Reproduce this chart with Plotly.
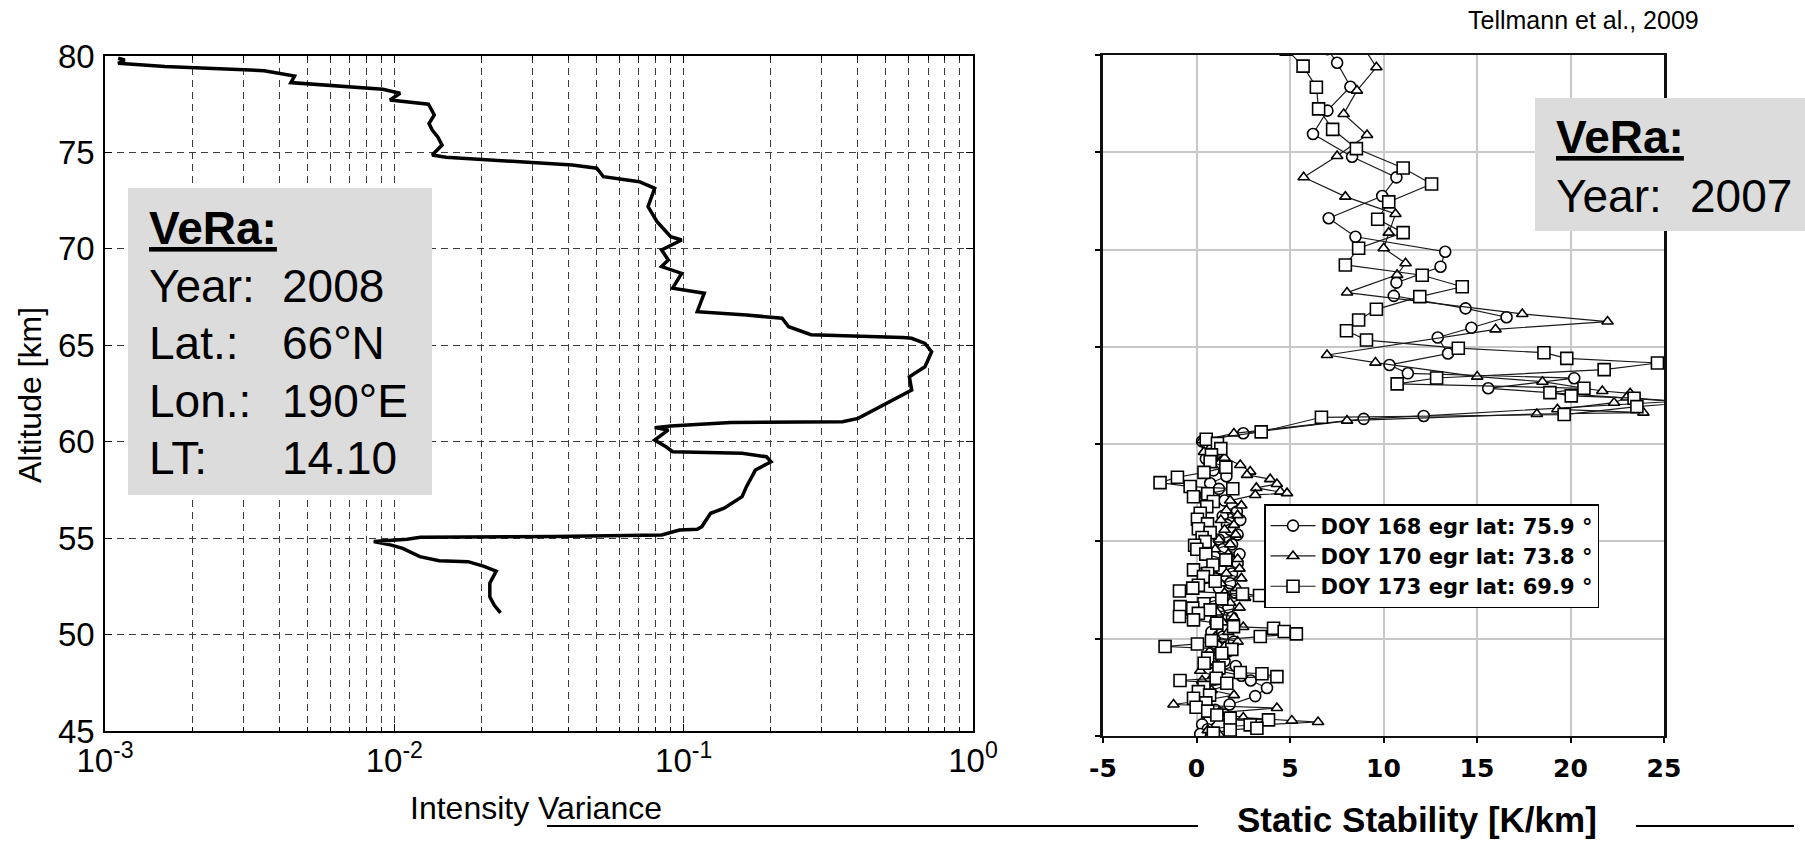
import plotly.graph_objects as go

W, H = 1805, 842

# ---------------- left panel: VeRa 2008 intensity variance profile ----------------
alt_variance = [
    79.88, 79.79, 79.62, 79.45, 79.24, 78.96, 78.62, 78.27, 78.07, 77.72,
    77.50, 76.94, 76.50, 76.16, 75.80, 75.38, 74.87, 74.75, 74.35, 74.18,
    73.74, 73.48, 73.14, 72.19, 71.41, 70.63, 70.46, 69.94, 69.42, 69.08,
    68.73, 67.96, 67.70, 66.74, 66.57, 66.40, 65.96, 65.55, 65.40, 65.36,
    65.10, 64.67, 63.89, 63.37, 62.68, 62.25, 61.82, 61.21, 61.04, 60.99,
    60.82, 60.73, 60.61, 60.09, 59.74, 59.48, 59.40, 59.22, 58.96, 58.53,
    57.67, 57.15, 56.55, 56.29, 55.60, 55.46, 55.42, 55.16, 55.08, 55.04,
    54.94, 54.82, 54.64, 54.47, 54.04, 53.83, 53.78, 53.54, 53.29, 52.66,
    51.96, 51.53, 51.13,
]
variance = [
    0.00111, 0.00117, 0.00111, 0.00161, 0.00355, 0.00452, 0.00439, 0.00912, 0.01047, 0.00966,
    0.01312, 0.01374, 0.01318, 0.01352, 0.01413, 0.01462, 0.01352, 0.01507, 0.0412, 0.0501,
    0.0528, 0.0703, 0.0794, 0.0753, 0.0809, 0.0902, 0.0984, 0.0839, 0.0885, 0.0839,
    0.0984, 0.0916, 0.1178, 0.1114, 0.1648, 0.2188, 0.2307, 0.2754, 0.5715, 0.6138,
    0.6823, 0.7194, 0.6823, 0.6026, 0.6138, 0.5420, 0.4786, 0.4009, 0.3540, 0.1455,
    0.0902, 0.0794, 0.0885, 0.0794, 0.0869, 0.0916, 0.1592, 0.1932, 0.2004, 0.1770,
    0.1648, 0.1592, 0.1380, 0.1239, 0.1156, 0.1114, 0.0968, 0.0839, 0.0357, 0.0123,
    0.01107, 0.00849, 0.00977, 0.01069, 0.01225, 0.01429, 0.01799, 0.02042, 0.02249, 0.02138,
    0.02138, 0.02213, 0.02328,
]

# log-axis ticks: labelled decades, unlabelled digits in between
var_decades = [0.001, 0.01, 0.1, 1.0]
var_decade_labels = ["10<sup>-3</sup>", "10<sup>-2</sup>", "10<sup>-1</sup>", "10<sup>0</sup>"]
var_digits = [2, 3, 4, 5, 6, 7, 8, 9]

# ---------------- right panel: VeRa 2007 static stability profiles ----------------
alt_doy168 = [
    80.30, 79.60, 78.37, 77.14, 75.94, 74.77, 73.71, 72.75, 71.61, 70.66,
    69.89, 69.12, 68.30, 67.62, 66.98, 66.52, 65.98, 65.48, 64.66, 64.07,
    63.64, 63.39, 62.87, 62.20, 61.45, 61.30, 60.56, 60.15, 59.85, 59.55,
    59.25, 58.95, 58.65, 58.35, 57.99, 57.70, 57.40, 57.10, 56.80, 56.53,
    56.30, 56.10, 55.85, 55.60, 55.35, 55.10, 54.85, 54.60, 54.35, 54.10,
    53.85, 53.60, 53.35, 53.10, 52.85, 52.60, 52.35, 52.10, 51.85, 51.60,
    51.35, 51.10, 50.85, 50.60, 50.35, 50.10, 49.85, 49.60, 49.35, 49.10,
    48.85, 48.60, 48.35, 48.10, 47.85, 47.47, 47.05, 46.62, 46.35, 46.10,
    45.85, 45.60, 45.35, 45.10,
]
stab_doy168 = [
    7.00, 7.52, 8.23, 7.00, 6.23, 8.32, 10.69, 9.93, 7.07, 8.50,
    13.30, 13.05, 10.69, 10.55, 14.39, 16.58, 14.70, 12.90, 13.45, 10.32,
    11.30, 20.20, 15.60, 25.60, 12.15, 8.94, 2.50, 0.30, 0.60, 1.10,
    0.50, 1.30, 0.90, 1.60, 0.73, 1.20, 0.50, 1.50, 1.90, 2.16,
    1.40, 2.34, 1.63, 1.80, 2.20, 1.20, 1.90, 1.40, 2.30, 1.60,
    2.20, 1.30, 1.90, 1.00, 1.80, 1.20, 2.10, 1.50, 0.90, 1.70,
    1.20, 1.90, 1.00, 1.60, 0.80, 1.40, 2.00, 1.10, 1.70, 0.90,
    1.50, 2.10, 1.20, 2.40, 2.90, 3.77, 3.14, 1.77, 1.00, 1.50,
    0.70, 0.30, 0.60, 0.20,
]

alt_doy170 = [
    80.30, 79.37, 78.17, 76.97, 75.89, 74.81, 73.72, 72.72, 71.83, 70.87,
    70.07, 69.30, 68.70, 67.79, 66.69, 66.30, 65.90, 64.58, 64.19, 63.47,
    63.21, 62.73, 62.61, 62.40, 62.13, 61.79, 61.62, 61.55, 61.21, 60.55,
    60.20, 59.90, 59.60, 59.30, 58.93, 58.59, 58.42, 58.20, 57.95, 57.75,
    57.56, 57.48, 57.39, 57.10, 56.85, 56.60, 56.35, 56.10, 55.85, 55.60,
    55.35, 55.10, 54.85, 54.60, 54.35, 54.10, 53.85, 53.60, 53.35, 53.10,
    52.85, 52.60, 52.35, 52.10, 51.85, 51.60, 51.35, 51.10, 50.85, 50.60,
    50.35, 50.10, 49.85, 49.60, 49.35, 49.10, 48.85, 48.60, 48.35, 48.10,
    47.85, 47.60, 47.35, 47.10, 46.85, 46.62, 46.44, 46.20, 45.95, 45.79,
    45.72, 45.50, 45.30, 45.10,
]
stab_doy170 = [
    9.00, 9.62, 8.58, 7.87, 9.12, 7.52, 5.73, 7.96, 10.64, 10.28,
    10.01, 11.18, 10.73, 8.05, 17.42, 21.98, 15.99, 6.98, 9.57, 15.01,
    18.50, 21.70, 23.19, 23.00, 22.33, 19.30, 23.90, 18.20, 8.05, 2.00,
    0.30, 0.80, 0.40, 1.50, 2.34, 2.87, 2.70, 3.94, 4.30, 3.20,
    4.48, 4.84, 3.14, 1.80, 2.40, 1.60, 2.20, 1.30, 2.00, 1.50,
    2.10, 1.20, 1.80, 1.00, 1.70, 2.20, 1.40, 2.30, 1.60, 2.40,
    1.30, 2.20, 1.50, 2.60, 1.80, 2.30, 1.10, 2.00, 1.40, 2.50,
    1.70, 1.00, 2.20, 1.50, 0.70, 1.40, 0.40, 1.10, 0.20, 0.90,
    0.30, 1.60, 0.80, 2.00, 0.50, -1.23, 4.30, 1.20, 2.50, 5.10,
    6.50, 1.80, 0.60, 1.20,
]

alt_doy173 = [
    80.30, 79.43, 78.34, 77.23, 76.18, 75.19, 74.19, 73.37, 72.45, 71.56,
    70.87, 70.07, 69.21, 68.68, 68.09, 67.58, 66.93, 66.38, 65.83, 65.35,
    64.93, 64.70, 64.41, 64.17, 63.83, 63.40, 63.10, 62.87, 62.65, 62.48,
    62.36, 62.15, 61.93, 61.52, 61.38, 60.63, 60.25, 60.04, 59.77, 59.45,
    59.10, 58.81, 58.55, 58.30, 58.02, 57.82, 57.71, 57.45, 57.30, 57.05,
    56.79, 56.45, 56.14, 55.90, 55.65, 55.45, 55.20, 54.99, 54.80, 54.60,
    54.35, 54.05, 53.79, 53.54, 53.35, 53.19, 52.95, 52.75, 52.60, 52.45,
    52.30, 52.22, 52.05, 51.80, 51.65, 51.57, 51.48, 51.30, 51.14, 50.97,
    50.80, 50.62, 50.54, 50.37, 50.25, 50.11, 49.90, 49.73, 49.60, 49.45,
    49.25, 49.00, 48.74, 48.50, 48.26, 48.20, 48.05, 47.97, 47.85, 47.71,
    47.50, 47.28, 47.10, 46.94, 46.70, 46.48, 46.28, 46.08, 45.91, 45.83,
    45.57, 45.40, 45.31, 45.15,
]
stab_doy173 = [
    4.80, 5.70, 6.41, 6.53, 7.28, 8.55, 11.05, 12.57, 10.28, 9.69,
    11.05, 8.67, 7.96, 12.07, 14.21, 11.94, 9.62, 8.67, 8.02, 9.09,
    14.00, 18.58, 19.80, 24.65, 21.80, 12.84, 10.73, 20.72, 18.90, 20.04,
    23.40, 26.50, 23.55, 19.66, 6.68, 3.46, 0.52, 1.12, 1.30, 0.80,
    0.73, 1.57, 0.40, -1.02, -1.95, -0.34, 1.94, 0.60, -0.16, 0.90,
    0.55, 0.20, 0.05, 0.59, 0.10, 0.73, 0.30, 0.46, -0.10, 0.02,
    0.50, 1.57, 0.88, -0.16, 0.60, 0.37, 1.00, 0.10, -0.20, -0.91,
    2.46, 3.37, 1.35, 0.40, -0.88, -0.20, 0.73, 0.10, -0.91, -0.16,
    1.09, 1.98, 4.12, 4.69, 5.34, 3.41, 0.80, 0.05, -1.68, 1.89,
    1.35, 0.60, 0.41, 1.20, 2.34, 3.50, 4.30, 1.05, -0.88, 1.62,
    0.40, 0.10, 0.70, -0.16, 0.50, -0.02, 0.60, 1.09, 1.80, 3.85,
    2.87, 3.23, 1.80, 0.90,
]

series_names = [
    "DOY 168 egr lat: 75.9 °",
    "DOY 170 egr lat: 73.8 °",
    "DOY 173 egr lat: 69.9 °",
]

stab_ticks = [-5, 0, 5, 10, 15, 20, 25]
stab_ticktext = ["-5", "0", "5", "10", "15", "20", "25"]


# ---------------- helpers: pixel -> paper coordinates ----------------
def px(x):
    return x / W


def py(y):
    return 1 - y / H


SANS = "Liberation Sans, Arial, sans-serif"
WIDE = "DejaVu Sans, Verdana, sans-serif"

fig = go.Figure()

# left profile
fig.add_trace(go.Scatter(
    x=variance, y=alt_variance, mode="lines",
    line=dict(color="black", width=3.5),
    xaxis="x", yaxis="y", showlegend=False, hoverinfo="skip",
))

# right profiles
marker_styles = [("circle", 11), ("triangle-up", 10), ("square", 12)]
for name, alts, vals, (sym, size) in zip(
        series_names,
        [alt_doy168, alt_doy170, alt_doy173],
        [stab_doy168, stab_doy170, stab_doy173],
        marker_styles):
    fig.add_trace(go.Scatter(
        x=vals, y=alts, mode="lines+markers", name=name,
        xaxis="x2", yaxis="y2",
        line=dict(color="#1a1a1a", width=1.2),
        marker=dict(symbol=sym, size=size, color="white",
                    line=dict(color="black", width=1.6)),
    ))

minor_vals = [d * dec for dec in var_decades[:-1] for d in var_digits]

grid_dash = "7px,5px"
grid_col = "#3c3c3c"

fig.update_layout(
    width=W, height=H,
    margin=dict(l=0, r=0, t=0, b=0, autoexpand=False),
    paper_bgcolor="white", plot_bgcolor="white",
    showlegend=True,
    xaxis=dict(
        type="log", range=[-3, 0], domain=[px(105), px(973)], anchor="y",
        automargin=False,
        tickmode="array", tickvals=var_decades, ticktext=var_decade_labels,
        ticks="inside", ticklen=7, tickcolor="black", tickwidth=1,
        minor=dict(tickmode="array", tickvals=minor_vals, ticks="inside",
                   ticklen=4, tickcolor="black", showgrid=True,
                   gridcolor=grid_col, gridwidth=1, griddash=grid_dash),
        showline=True, linecolor="black", linewidth=1.5, mirror="ticks",
        showgrid=True, gridcolor=grid_col, gridwidth=1, griddash=grid_dash,
        zeroline=False,
        tickfont=dict(family=SANS, size=33, color="black"),
        ticklabelstandoff=0,
    ),
    yaxis=dict(
        range=[45, 80], domain=[py(731), py(56)], anchor="x",
        automargin=False,
        tickmode="linear", tick0=45, dtick=5,
        ticks="inside", ticklen=7, tickcolor="black", tickwidth=1,
        showline=True, linecolor="black", linewidth=1.5, mirror="ticks",
        showgrid=True, gridcolor=grid_col, gridwidth=1, griddash=grid_dash,
        zeroline=False,
        tickfont=dict(family=SANS, size=33, color="black"),
        ticklabelstandoff=2,
    ),
    xaxis2=dict(
        range=[-5, 25], domain=[px(1103), px(1664)], anchor="y2",
        automargin=False,
        tickmode="array", tickvals=stab_ticks, ticktext=stab_ticktext,
        ticks="outside", ticklen=5, tickcolor="black", tickwidth=1.5,
        showline=True, linecolor="#111111", linewidth=2, mirror=True,
        showgrid=True, gridcolor="#c8c8c8", gridwidth=2,
        zeroline=False,
        tickfont=dict(family=WIDE, size=25, color="black", weight="bold"),
        ticklabelstandoff=4,
    ),
    yaxis2=dict(
        range=[45, 80], domain=[py(736), py(55)], anchor="x2",
        automargin=False,
        tickmode="linear", tick0=45, dtick=5,
        ticks="outside", ticklen=5, tickcolor="black", tickwidth=1.5,
        showticklabels=False,
        showline=True, linecolor="#111111", linewidth=2.5, mirror=True,
        showgrid=True, gridcolor="#c8c8c8", gridwidth=2,
        zeroline=False,
    ),
    legend=dict(
        orientation="v",
        x=px(1264), y=py(504), xanchor="left", yanchor="top",
        bgcolor="white", bordercolor="black", borderwidth=1.5,
        font=dict(family=WIDE, size=21, color="black", weight="bold"),
        itemwidth=45, tracegroupgap=0,
    ),
)

# grey information boxes and the decorative rules under the axis titles
fig.add_shape(type="rect", xref="paper", yref="paper",
              x0=px(128), x1=px(432), y0=py(495), y1=py(188),
              fillcolor="#dcdcdc", line=dict(width=0), layer="above")
fig.add_shape(type="rect", xref="paper", yref="paper",
              x0=px(1535), x1=px(1805), y0=py(231), y1=py(98),
              fillcolor="#dcdcdc", line=dict(width=0), layer="above")
fig.add_shape(type="line", xref="paper", yref="paper",
              x0=px(547), x1=px(1198), y0=py(826), y1=py(826),
              line=dict(color="black", width=2))
fig.add_shape(type="line", xref="paper", yref="paper",
              x0=px(1636), x1=px(1794), y0=py(826), y1=py(826),
              line=dict(color="black", width=2))


def label(text, x, y, size, xanchor="left", bold=False, angle=0, family=SANS):
    fig.add_annotation(
        text=text, x=px(x), y=py(y), xref="paper", yref="paper",
        xanchor=xanchor, yanchor="middle", showarrow=False, textangle=angle,
        font=dict(family=family, size=size, color="black",
                  weight="bold" if bold else "normal"),
    )


# left info box
box_rows = [("<u>VeRa:</u>", None, 228, True),
            ("Year:", "2008", 286, False),
            ("Lat.:", "66°N", 343, False),
            ("Lon.:", "190°E", 401, False),
            ("LT:", "14.10", 458, False)]
for key, val, yc, bold in box_rows:
    label(key, 147, yc, 46, bold=bold)
    if val is not None:
        label(val, 280, yc, 46)

# right info box
label("<u>VeRa:</u>", 1554, 137, 46, bold=True)
label("Year:", 1554, 196, 46)
label("2007", 1688, 196, 46)

# titles
label("Tellmann et al., 2009", 1583, 20, 25, xanchor="center")
label("Intensity Variance", 536, 808, 32, xanchor="center")
label("Altitude [km]", 30, 395, 32, xanchor="center", angle=-90)
label("Static Stability [K/km]", 1417, 819, 35, xanchor="center", bold=True)

fig.write_html("out.html")
